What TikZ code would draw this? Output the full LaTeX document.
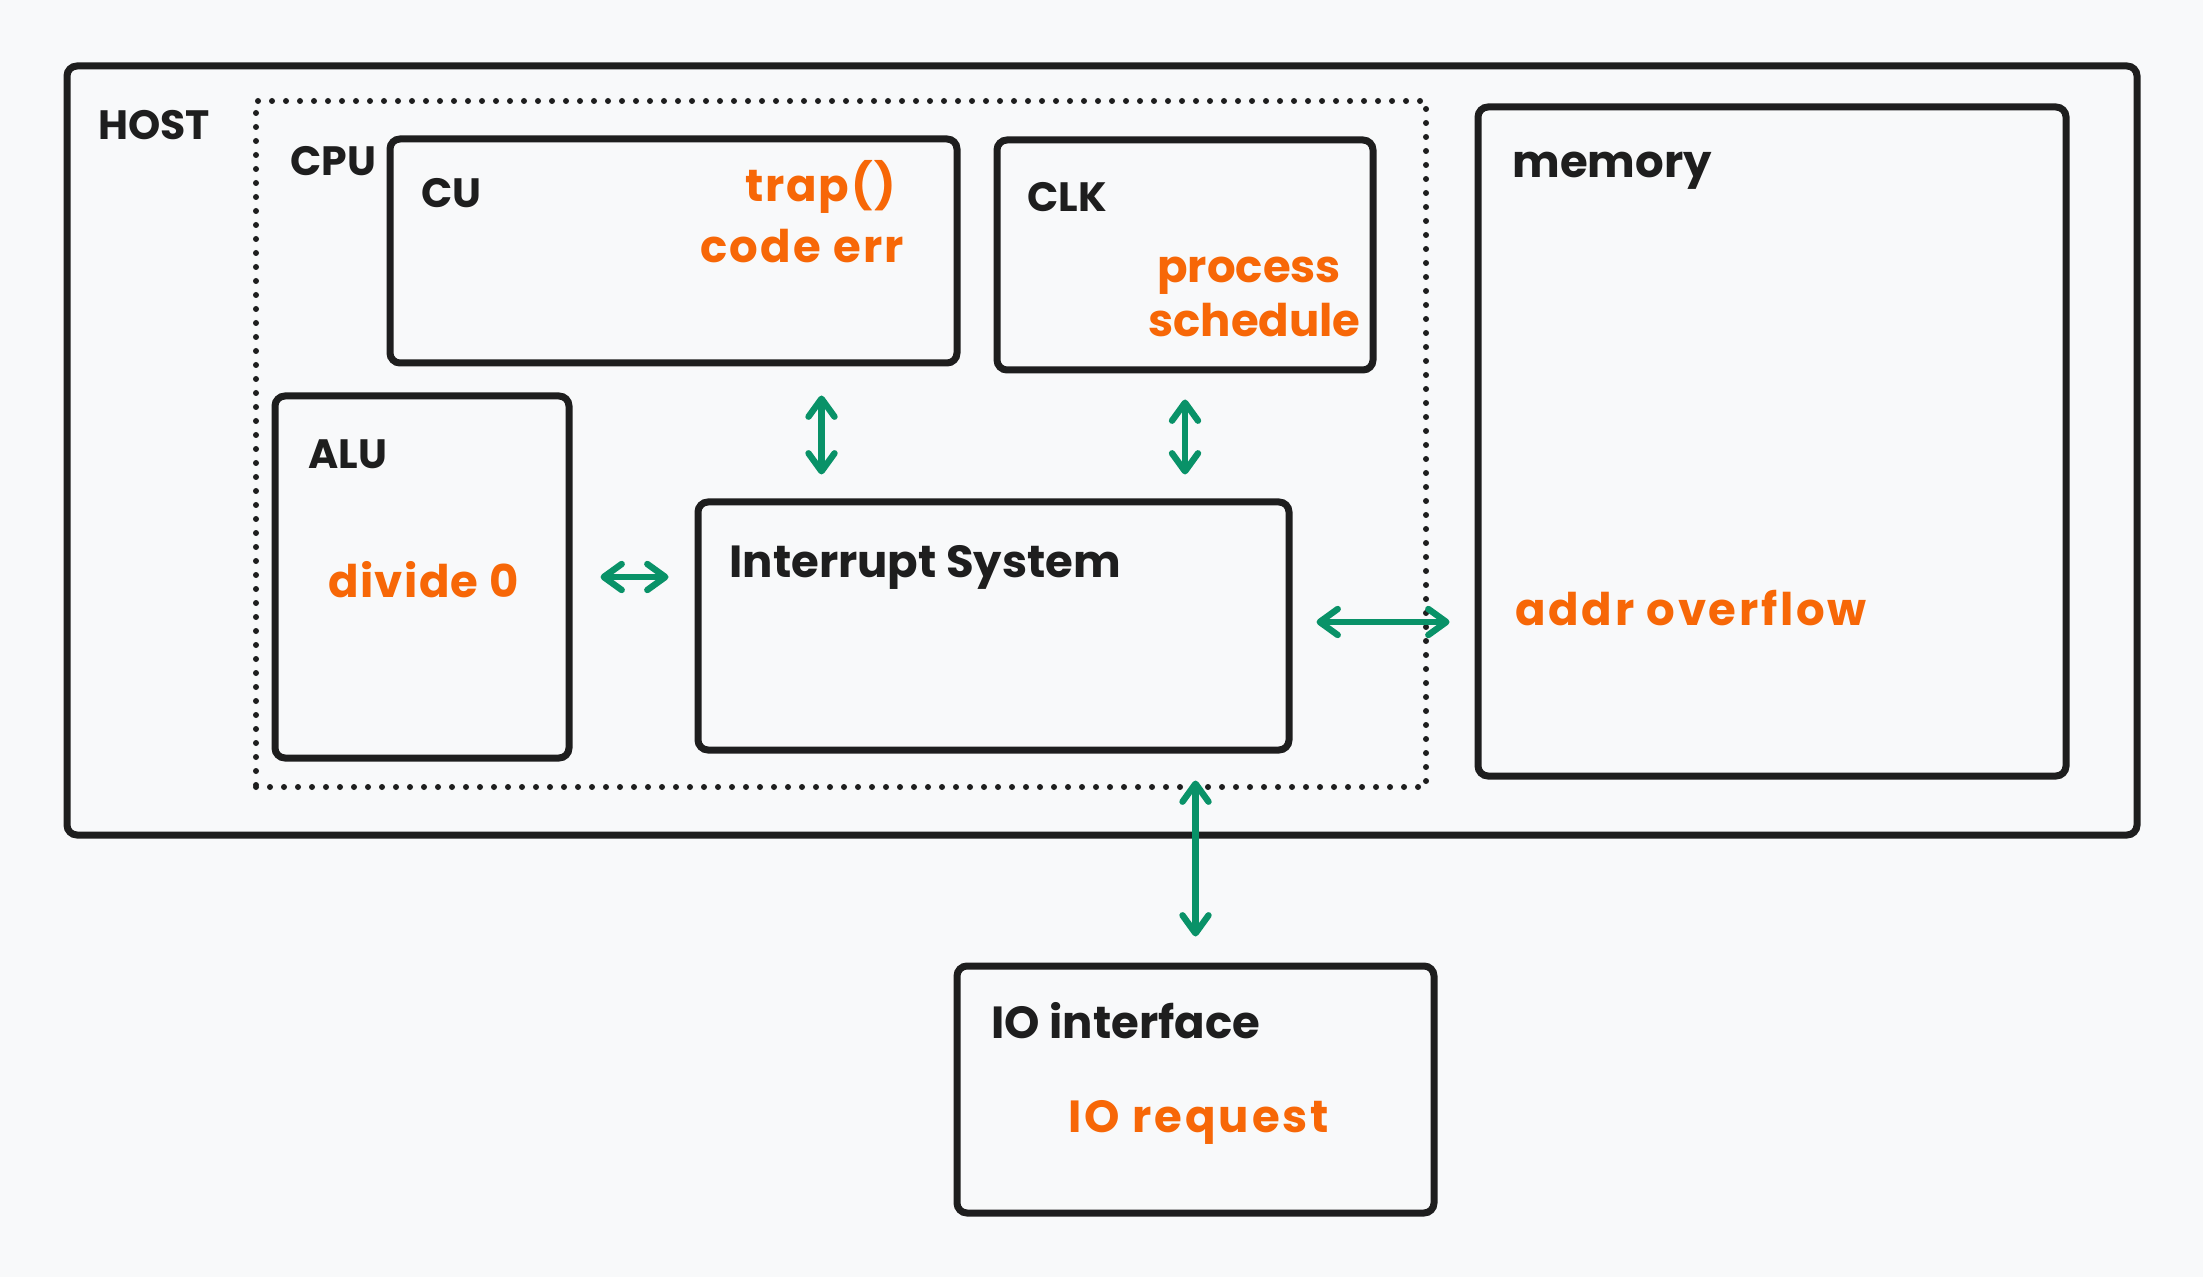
\documentclass[tikz,border=0pt]{standalone}
\usepackage{fontspec}
\setmainfont{Poppins}
\usepackage{xcolor}
\usetikzlibrary{arrows.meta}
\definecolor{ink}{HTML}{1E1E1E}
\definecolor{errtext}{HTML}{F76707}
\definecolor{wire}{HTML}{099268}
\definecolor{paper}{HTML}{F8F9FA}

\begin{document}
\begin{tikzpicture}[x=0.5pt,y=-0.5pt,
   unit/.style={draw=ink,line width=3.5pt,rounded corners=5pt,inner sep=0pt},
   cpu zone/.style={draw=ink,line width=3pt,line cap=round,dash pattern=on 0pt off 7pt,inner sep=0pt},
   title/.style={anchor=base west,inner sep=0pt,text=ink,font=\fontsize{22.5}{26}\selectfont\bfseries},
   caps title/.style={title,font=\fontsize{20.5}{24}\selectfont\bfseries},
   event/.style={title,text=errtext},
   spaced/.style={font=\fontsize{22.5}{26}\selectfont\bfseries\addfontfeature{LetterSpace=#1}},
   link/.style={draw=wire,line width=3.2pt,line cap=round,line join=round,
     {Straight Barb[length=9pt,width=13pt,round]}-{Straight Barb[length=9pt,width=13pt,round]}}]

  \fill[paper] (0,0) rectangle (2203,1277);
  \useasboundingbox (0,0) rectangle (2203,1277);

  % boxes
  \node[unit,minimum width=1035pt,minimum height=384.5pt](host) at (1102,450.5) {};
  \node[cpu zone,minimum width=585pt,minimum height=343pt](cpu) at (841,444) {};
  \node[unit,minimum width=283.5pt,minimum height=112pt](cu) at (673.5,251) {};
  \node[unit,minimum width=188pt,minimum height=115pt](clk) at (1185,255) {};
  \node[unit,minimum width=147pt,minimum height=181pt](alu) at (422,577) {};
  \node[unit,minimum width=295.5pt,minimum height=124pt](int) at (993.5,626) {};
  \node[unit,minimum width=294pt,minimum height=334.5pt](mem) at (1772,441.5) {};
  \node[unit,minimum width=238.5pt,minimum height=123.5pt](io) at (1195.5,1089.5) {};

  % names
  \foreach \n/\x/\y/\txt in {hostname/98/140/HOST, cpuname/290/176/CPU, cuname/421/208/CU,
      clkname/1027/212/CLK, aluname/308/469/ALU}
    \node[caps title](\n) at (\x,\y) {\txt};
  \foreach \n/\x/\y/\txt in {intname/729/577/Interrupt System,
      memname/1512/178/memory, ioname/991/1038/IO interface}
    \node[title](\n) at (\x,\y) {\txt};

  % interrupt sources
  \node[event,spaced=4](trap) at (745,202) {trap()};
  \node[event,spaced=5](codeerr) at (700,263) {code err};
  \node[event](process) at (1157,283) {process};
  \node[event](schedule) at (1148,337) {schedule};
  \node[event,spaced=3](divzero) at (328,597) {divide 0};
  \node[event,spaced=6](addrof) at (1515,625) {addr overflow};
  \node[event,spaced=6.5](ioreq) at (1068,1132) {IO request};

  % links
  \draw[link,shorten <=14.5pt,shorten >=12pt] ([xshift=74pt]cu.south) -- ([xshift=74pt]cu.south |- int.north);
  \draw[link,shorten <=13pt,shorten >=12pt] (clk.south) -- (clk.south |- int.north);
  \draw[link,shorten <=14pt,shorten >=13pt] (alu.east) -- (alu.east -| int.west);
  \draw[link,shorten <=12pt,shorten >=12.5pt] ([yshift=2pt]int.east) -- ([yshift=2pt]int.east -| mem.west);
  \draw[link,shorten <=13pt,shorten >=13.5pt] (io.north) -- (io.north |- int.south);
\end{tikzpicture}
\end{document}
